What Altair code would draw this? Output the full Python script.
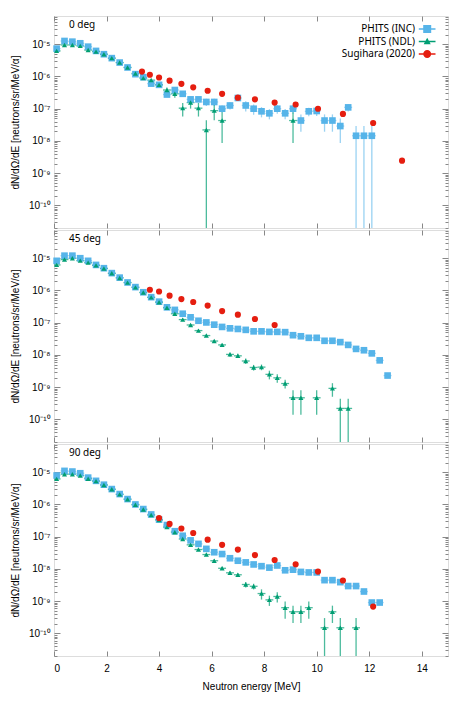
import altair as alt
import pandas as pd

FONT = "Noto Sans"

# ---------------- data ----------------
BIN_CENTERS = [0.1, 0.4, 0.7, 1.0, 1.3, 1.6, 1.9, 2.2, 2.5, 2.8, 3.1, 3.4, 3.7, 4.0, 4.3,
               4.6, 4.9, 5.2, 5.5, 5.8, 6.1, 6.4, 6.7, 7.0, 7.3, 7.6, 7.9, 8.2, 8.5, 8.8,
               9.1, 9.4, 9.7, 10.0, 10.3, 10.6, 10.9, 11.2, 11.5, 11.8, 12.1, 12.4, 12.7]
BIN_HALF_WIDTH = 0.15
SUG_ENERGIES = [3.35, 3.65, 4.0, 4.4, 4.85, 5.3, 5.85, 6.4, 7.0, 7.65, 8.4, 9.2, 10.05,
                11.0, 12.15, 13.25]

SERIES = ["PHITS (INC)", "PHITS (NDL)", "Sugihara (2020)"]
COLORS = ["#56B4E9", "#009E73", "#E51E10"]
SHAPES = ["square", "triangle-up", "circle"]
ANGLES = ["0 deg", "45 deg", "90 deg"]

# 0 deg
INC_0 = [7.3e-6, 1.26e-5, 1.2e-5, 1.07e-5, 8.4e-6, 6.2e-6, 4.9e-6, 3.7e-6, 2.7e-6, 1.9e-6,
         1.18e-6, 9.5e-7, 6.0e-7, 5.5e-7, 2.75e-7, 3.8e-7, 2.9e-7, 1.95e-7, 1.95e-7, 1.62e-7,
         1.62e-7, 1.0e-7, 1.26e-7, 2.15e-7, 1.26e-7, 1.0e-7, 8.3e-8, 7.2e-8, 1.0e-7, 7.2e-8,
         1.0e-7, 4.3e-8, 8.3e-8, 8.5e-8, 4.3e-8, 4.3e-8, 2.9e-8, 1.1e-7, 1.45e-8, 1.45e-8,
         1.45e-8]
INC_0_ERR = [0.03, 0.03, 0.03, 0.03, 0.03, 0.03, 0.03, 0.03, 0.03, 0.03,
             0.08, 0.08, 0.08, 0.08, 0.15, 0.15, 0.15, 0.15, 0.15, 0.25,
             0.25, 0.25, 0.25, 0.2, 0.35, 0.35, 0.35, 0.35, 0.3, 0.35,
             0.3, 0.55, 0.3, 0.3, 0.55, 0.55, 0.7, 0.25, 1.0, 1.0, 1.0]
NDL_0 = [6.2e-6, 9.5e-6, 9.5e-6, 8.9e-6, 6.6e-6, 5.9e-6, 4.9e-6, 3.7e-6, 2.7e-6, 1.9e-6,
         1.24e-6, 8.9e-7, 7.7e-7, 5.5e-7, 3.8e-7, 2.9e-7, 1.04e-7, 1.55e-7, 1.04e-7, 2.2e-8,
         8.7e-8, 4.3e-8, None, None, None, None, None, None, None, None,
         4.3e-8]
NDL_0_ERR = [0.04, 0.04, 0.04, 0.04, 0.04, 0.04, 0.04, 0.04, 0.04, 0.04,
             0.04, 0.1, 0.1, 0.1, 0.2, 0.25, 0.45, 0.35, 0.45, 1.0,
             0.5, 0.8, None, None, None, None, None, None, None, None,
             0.8]
SUG_0 = [1.42e-6, 1.13e-6, 9.3e-7, 7.4e-7, 5.9e-7, 4.6e-7, 3.6e-7, 2.9e-7, 2.2e-7, 1.95e-7,
         1.55e-7, 1.35e-7, 1.0e-7, 6.9e-8, 3.6e-8, 2.45e-9]

# 45 deg
INC_45 = [8.3e-6, 1.2e-5, 1.2e-5, 1.0e-5, 8.3e-6, 6.2e-6, 4.9e-6, 3.45e-6, 2.5e-6, 1.77e-6,
          1.27e-6, 8.8e-7, 6.2e-7, 4.5e-7, 3.0e-7, 2.5e-7, 1.9e-7, 1.47e-7, 1.15e-7, 1.02e-7,
          8.7e-8, 7.4e-8, 6.7e-8, 6.4e-8, 6.0e-8, 5.4e-8, 5.4e-8, 5.2e-8, 5.2e-8, 5.1e-8,
          4.1e-8, 3.8e-8, 3.4e-8, 3.4e-8, 2.75e-8, 2.75e-8, 2.5e-8, 2.05e-8, 1.54e-8, 1.4e-8,
          1.12e-8, 6.8e-9, 2.3e-9]
INC_45_ERR = [0.03, 0.03, 0.03, 0.03, 0.03, 0.03, 0.03, 0.03, 0.03, 0.03,
              0.03, 0.03, 0.03, 0.03, 0.03, 0.03, 0.03, 0.03, 0.03, 0.03,
              0.03, 0.05, 0.05, 0.05, 0.05, 0.05, 0.05, 0.05, 0.05, 0.05,
              0.05, 0.05, 0.05, 0.05, 0.05, 0.05, 0.05, 0.05, 0.08, 0.08,
              0.08, 0.08, 0.08]
NDL_45 = [6.2e-6, 9.1e-6, 1.0e-5, 8.4e-6, 7.3e-6, 6.0e-6, 4.8e-6, 3.4e-6, 2.45e-6, 1.75e-6,
          1.25e-6, 8.6e-7, 6.1e-7, 4.3e-7, 2.9e-7, 1.9e-7, 1.25e-7, 8.5e-8, 5.7e-8, 4.0e-8,
          2.7e-8, 2.05e-8, 1.04e-8, 9.4e-9, 6.5e-9, 4.1e-9, 4.2e-9, 2.5e-9, 1.95e-9, 1.3e-9,
          4.7e-10, 4.7e-10, None, 4.7e-10, None, 9.2e-10, 2.2e-10, 2.2e-10]
NDL_45_ERR = [0.04, 0.04, 0.04, 0.04, 0.04, 0.04, 0.04, 0.04, 0.04, 0.04,
              0.04, 0.04, 0.04, 0.04, 0.04, 0.08, 0.08, 0.08, 0.08, 0.08,
              0.08, 0.08, 0.15, 0.15, 0.2, 0.2, 0.2, 0.3, 0.3, 0.3,
              0.7, 0.7, None, 0.7, None, 0.45, 1.0, 1.0]
SUG_45 = [None, 1.05e-6, 9.3e-7, 6.9e-7, 5.4e-7, 4.4e-7, 3.4e-7, 2.3e-7, 1.78e-7, 1.3e-7,
          8.5e-8, None, None, None, None, None]

# 90 deg
INC_90 = [7.9e-6, 1.1e-5, 1.05e-5, 9.3e-6, 6.8e-6, 5.4e-6, 4.1e-6, 3.0e-6, 2.1e-6, 1.47e-6,
          1.0e-6, 7.2e-7, 4.9e-7, 3.4e-7, 2.3e-7, 1.48e-7, 1.07e-7, 7.7e-8, 6.0e-8, 4.2e-8,
          3.3e-8, 2.9e-8, 2.15e-8, 1.8e-8, 1.6e-8, 1.38e-8, 1.22e-8, 1.1e-8, 1.28e-8, 9.1e-9,
          9.5e-9, 8.1e-9, 7.8e-9, 7.8e-9, 4.5e-9, 4.5e-9, 3.9e-9, 2.95e-9, 2.95e-9, 2.0e-9,
          9.1e-10, 9.1e-10]
INC_90_ERR = [0.03, 0.03, 0.03, 0.03, 0.03, 0.03, 0.03, 0.03, 0.03, 0.03,
              0.03, 0.03, 0.03, 0.03, 0.03, 0.03, 0.03, 0.03, 0.03, 0.03,
              0.03, 0.06, 0.06, 0.06, 0.06, 0.06, 0.06, 0.06, 0.06, 0.06,
              0.06, 0.06, 0.06, 0.06, 0.06, 0.06, 0.06, 0.06, 0.06, 0.06,
              0.15, 0.15]
NDL_90 = [6.2e-6, 8.7e-6, 8.7e-6, 7.9e-6, 6.3e-6, 5.3e-6, 4.0e-6, 2.95e-6, 2.05e-6, 1.45e-6,
          9.8e-7, 7.0e-7, 4.7e-7, 3.3e-7, 2.0e-7, 1.38e-7, 8.5e-8, 5.6e-8, 4.0e-8, 2.8e-8,
          1.8e-8, 1.05e-8, 7.6e-9, 6.6e-9, 3.3e-9, 2.9e-9, 1.73e-9, 1.1e-9, 1.4e-9, 6.3e-10,
          4.7e-10, 4.7e-10, 6.3e-10, None, 1.5e-10, 4.7e-10, 1.5e-10, None, 1.5e-10]
NDL_90_ERR = [0.05, 0.05, 0.05, 0.05, 0.05, 0.05, 0.05, 0.05, 0.05, 0.05,
              0.05, 0.05, 0.05, 0.05, 0.05, 0.05, 0.05, 0.05, 0.05, 0.05,
              0.12, 0.12, 0.12, 0.12, 0.2, 0.2, 0.35, 0.35, 0.35, 0.55,
              0.55, 0.55, 0.55, None, 1.0, 0.55, 1.0, None, 1.0]
SUG_90 = [None, None, 3.8e-7, 2.5e-7, 1.8e-7, 1.3e-7, 8.1e-8, 5.6e-8, 4.0e-8, 2.7e-8,
          1.9e-8, 1.4e-8, 8.3e-9, 4.4e-9, 6.8e-10, None]

PANELS = [
    (INC_0, INC_0_ERR, NDL_0, NDL_0_ERR, SUG_0),
    (INC_45, INC_45_ERR, NDL_45, NDL_45_ERR, SUG_45),
    (INC_90, INC_90_ERR, NDL_90, NDL_90_ERR, SUG_90),
]

X_TICKS = [0, 2, 4, 6, 8, 10, 12, 14]
MAJOR_TICKS = [1e-10, 1e-9, 1e-8, 1e-7, 1e-6, 1e-5]
MAJOR_POWERS = [-10, -9, -8, -7, -6, -5]
MAJOR_LABELS = ["10⁻¹⁰", "10⁻⁹", "10⁻⁸", "10⁻⁷", "10⁻⁶", "10⁻⁵"]
MINOR_TICKS = [m * 10.0 ** p for p in range(-11, -4) for m in range(2, 10)
               if 2e-11 <= m * 10.0 ** p <= 7.5e-5]

FLOOR = 1e-12
W, H = 394, 212


def make_df(energies, values, errs, name):
    rows = []
    for i, (e_val, v) in enumerate(zip(energies, values)):
        if v is None:
            continue
        e = errs[i] if errs is not None else 0.0
        rows.append({
            "E": e_val, "v": v,
            "lo": v * (1 - e) if e < 1 else FLOOR,
            "hi": v * (1 + e),
            "x0": e_val - BIN_HALF_WIDTH, "x1": e_val + BIN_HALF_WIDTH,
            "series": name,
        })
    return pd.DataFrame(rows)


# legend symbols (gnuplot style: line sample with marker, to the right of the label)
def legend_path(kind):
    c, l0, l1, t = 23.64, 21.96, 25.3, 0.15
    anchor = "M0,-0.02h0.04v0.04h-0.04Z"
    line = f"M{l0},{-t}H{l1}V{t}H{l0}Z"
    if kind == "square":
        m = f"M{c - 0.8},-0.8H{c + 0.8}V0.8H{c - 0.8}Z"
    elif kind == "triangle":
        m = f"M{c},-0.75L{c + 0.7},0.55L{c - 0.7},0.55Z"
    else:
        m = f"M{c + 0.8},0A0.8,0.8 0 1,1 {c - 0.8},0A0.8,0.8 0 1,1 {c + 0.8},0Z"
    return anchor + line + m


LEGEND_SHAPES = [legend_path("square"), legend_path("triangle"), legend_path("circle")]

LOG_EXPR = "round(log(datum.value)/LN10)"
LABEL_EXPR = " : ".join(
    f"{LOG_EXPR} == {p} ? '{lab}'" for p, lab in zip(MAJOR_POWERS, MAJOR_LABELS)
) + " : ''"

XS = alt.Scale(domain=[0, 15], nice=False, zero=False)
YS = alt.Scale(type="log", domain=[2e-11, 7.5e-5], nice=False)


def panel(idx):
    inc, inc_err, ndl, ndl_err, sug = PANELS[idx]
    inc_df = make_df(BIN_CENTERS, inc, inc_err, SERIES[0])
    ndl_df = make_df(BIN_CENTERS, ndl, ndl_err, SERIES[1])
    sug_df = make_df(SUG_ENERGIES, sug, None, SERIES[2])
    last = idx == 2

    bottom_kw = dict(orient="bottom", values=X_TICKS, tickSize=5, offset=-5, domain=False,
                     grid=False, labels=last, labelPadding=7, labelFontSize=10,
                     titlePadding=8, titleFontSize=10, titleFontWeight="normal")
    bottom_kw["title"] = "Neutron energy [MeV]" if last else None
    ax_bottom = alt.Axis(**bottom_kw)
    ax_top = alt.Axis(orient="top", values=X_TICKS, tickSize=5, offset=-5, domain=False,
                      grid=False, labels=False, title=None)
    ax_left = alt.Axis(orient="left", values=MAJOR_TICKS, tickSize=6, offset=-6,
                       domain=False, grid=False, labelExpr=LABEL_EXPR, labelPadding=4,
                       labelFontSize=10, title="dN/dΩ/dE [neutrons/sr/MeV/α]",
                       titleFontSize=10, titlePadding=8, titleFontWeight="normal")
    ax_right = alt.Axis(orient="right", values=MAJOR_TICKS, tickSize=6, offset=-6,
                        domain=False, grid=False, labels=False, title=None)
    ax_left_minor = alt.Axis(orient="left", values=MINOR_TICKS, tickSize=3, offset=-3,
                             domain=False, grid=False, labels=False, title=None)
    ax_right_minor = alt.Axis(orient="right", values=MINOR_TICKS, tickSize=3, offset=-3,
                              domain=False, grid=False, labels=False, title=None)

    blue_xerr = alt.Chart(inc_df).mark_rule(color=COLORS[0], opacity=0.6, strokeWidth=1.3,
                                            clip=True).encode(
        x=alt.X("x0:Q", scale=XS, axis=ax_bottom), x2="x1:Q",
        y=alt.Y("v:Q", scale=YS, axis=ax_left))
    blue_yerr = alt.Chart(inc_df).mark_rule(color=COLORS[0], opacity=0.6, strokeWidth=1.3,
                                            clip=True).encode(
        x=alt.X("E:Q", scale=XS, axis=ax_top),
        y=alt.Y("lo:Q", scale=YS, axis=ax_right), y2="hi:Q")
    green_xerr = alt.Chart(ndl_df).mark_rule(color=COLORS[1], opacity=0.7, strokeWidth=1.3,
                                             clip=True).encode(
        x=alt.X("x0:Q", scale=XS, axis=None), x2="x1:Q",
        y=alt.Y("v:Q", scale=YS, axis=ax_left_minor))
    green_yerr = alt.Chart(ndl_df).mark_rule(color=COLORS[1], opacity=0.7, strokeWidth=1.3,
                                             clip=True).encode(
        x=alt.X("E:Q", scale=XS, axis=None),
        y=alt.Y("lo:Q", scale=YS, axis=ax_right_minor), y2="hi:Q")
    blue_pts = alt.Chart(inc_df).mark_point(filled=True, opacity=1, size=44, shape=SHAPES[0],
                                            color=COLORS[0]).encode(
        x=alt.X("E:Q", scale=XS, axis=None), y=alt.Y("v:Q", scale=YS, axis=None))
    green_pts = alt.Chart(ndl_df).mark_point(filled=True, opacity=1, size=26,
                                             shape=SHAPES[1], color=COLORS[1]).encode(
        x=alt.X("E:Q", scale=XS, axis=None), y=alt.Y("v:Q", scale=YS, axis=None))
    red_pts = alt.Chart(sug_df).mark_point(filled=True, opacity=1, size=38, shape=SHAPES[2],
                                           color=COLORS[2]).encode(
        x=alt.X("E:Q", scale=XS, axis=None), y=alt.Y("v:Q", scale=YS, axis=None))
    label = alt.Chart(pd.DataFrame({"t": [ANGLES[idx]]})).mark_text(
        align="left", baseline="middle", font=FONT, fontSize=10, color="black").encode(
        x=alt.value(15), y=alt.value(9), text="t:N")

    layers = [blue_xerr, blue_yerr, green_xerr, green_yerr, blue_pts, green_pts, red_pts,
              label]
    if idx == 0:
        leg = alt.Legend(title=None, orient="none", legendX=250, legendY=8,
                         labelAlign="right", labelOffset=101, labelFont=FONT,
                         labelFontSize=10, labelColor="black", symbolSize=100,
                         symbolOpacity=1, symbolStrokeWidth=0, rowPadding=2.5, padding=0)
        legend_layer = alt.Chart(pd.DataFrame({"series": SERIES})).mark_point(
            filled=True, opacity=0, size=100).encode(
            color=alt.Color("series:N", scale=alt.Scale(domain=SERIES, range=COLORS),
                            legend=leg),
            shape=alt.Shape("series:N", scale=alt.Scale(domain=SERIES, range=LEGEND_SHAPES),
                            legend=leg))
        layers.append(legend_layer)

    return alt.layer(*layers).resolve_axis(x="independent", y="independent").properties(
        width=W, height=H)


chart = alt.vconcat(panel(0), panel(1), panel(2), spacing=0).resolve_scale(
    x="independent", y="independent"
).properties(
    padding={"left": 2, "top": 7, "right": 5, "bottom": 5}
).configure_view(stroke="black", strokeWidth=1).configure_axis(
    labelFont=FONT, titleFont=FONT, labelColor="black", titleColor="black",
    tickColor="black", titleFontWeight="normal"
).configure(background="white")

chart.save("out.html", embed_options={"renderer": "svg", "actions": False})
